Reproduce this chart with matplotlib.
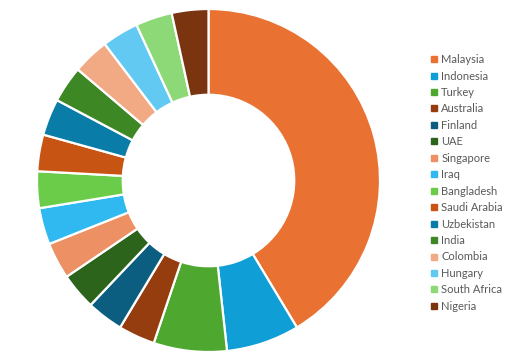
import matplotlib.pyplot as plt
from matplotlib.lines import Line2D

countries = ["Malaysia", "Indonesia", "Turkey", "Australia", "Finland", "UAE",
             "Singapore", "Iraq", "Bangladesh", "Saudi Arabia", "Uzbekistan",
             "India", "Colombia", "Hungary", "South Africa", "Nigeria"]
values = [12, 2, 2, 1, 1, 1, 1, 1, 1, 1, 1, 1, 1, 1, 1, 1]
colors = ["#E97132", "#0F9ED5", "#4EA72E", "#953D0E", "#0B5E80", "#2D641B",
          "#ED9064", "#2FB9F0", "#6ACC48", "#C85413", "#0A7CA8", "#3E8725",
          "#F2AA85", "#62C9F2", "#8ED977", "#7B3410"]

plt.rcParams['font.family'] = ['Lato', 'DejaVu Sans']

fig = plt.figure(figsize=(5.27, 3.63), dpi=100)
# donut centred around (208, 180) px, radius ~172 px
ax = fig.add_axes([(208.5 - 171.5) / 527, (363 - 180.5 - 171.5) / 363,
                   343 / 527, 343 / 363])
ax.pie(values, colors=colors, startangle=90, counterclock=False, radius=1,
       wedgeprops=dict(width=0.5, edgecolor="white", linewidth=1.6))
ax.set_xlim(-1, 1)
ax.set_ylim(-1, 1)
ax.set_aspect("equal")
ax.axis("off")

handles = [Line2D([], [], marker="s", linestyle="none", markersize=4.2,
                  markerfacecolor=c, markeredgecolor=c) for c in colors]
leg = fig.legend(handles, countries, loc="upper left",
                 bbox_to_anchor=(424 / 527, 1 - 48.5 / 363), frameon=False,
                 fontsize=8, handlelength=0.8, handletextpad=0.25,
                 labelspacing=0.49, borderpad=0)
for t in leg.get_texts():
    t.set_color("#595959")

fig.savefig("out.png", dpi=100)
